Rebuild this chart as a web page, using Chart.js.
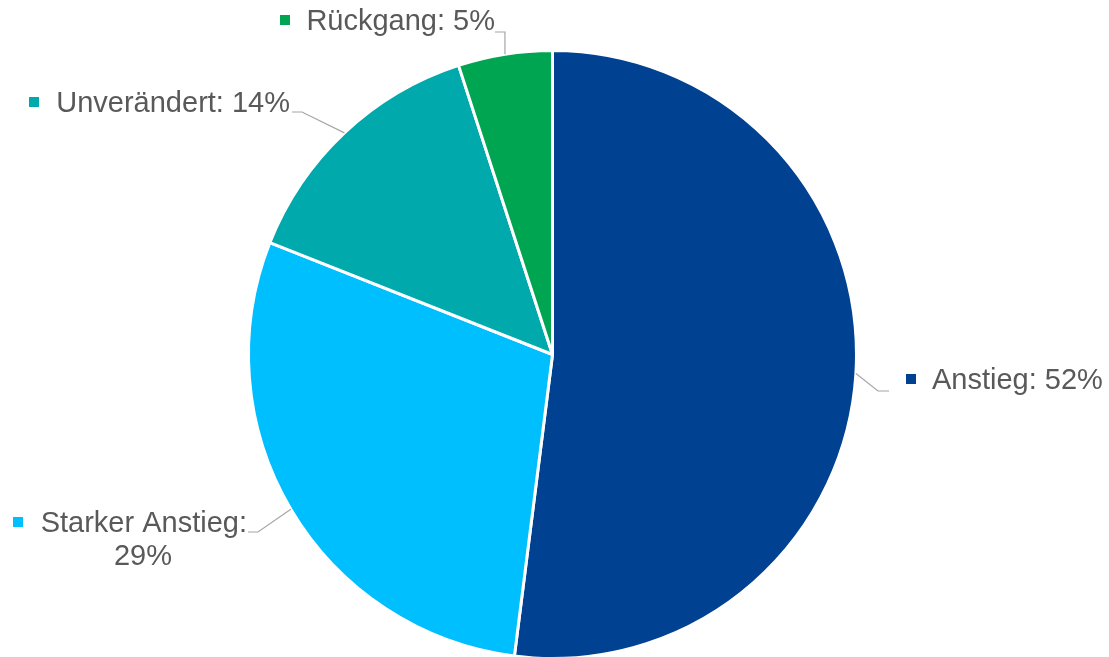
<!DOCTYPE html>
<html>
<head>
<meta charset="utf-8">
<script src="https://cdn.jsdelivr.net/npm/chart.js@4/dist/chart.umd.min.js"></script>
<style>
  html, body { margin: 0; padding: 0; background: #fff; }
  #wrap { width: 1109px; height: 657px; overflow: hidden; }
</style>
</head>
<body>
<div id="wrap"><canvas id="myChart" width="1109" height="660"></canvas></div>
<script>
const categories = ['Anstieg', 'Starker Anstieg', 'Unverändert', 'Rückgang'];
const shares = [52, 29, 14, 5];
const sliceColors = ['#004191', '#00BFFF', '#00A9AB', '#00A551'];

// where each label sits and where its leader line bends
const labelLayout = [
  { side: 'right', textX: 932, baseY: 389, boxX: 906, elbow: [878, 391], end: [889, 391] },
  { side: 'left', textX: 247, baseY: 532, boxX: 13, elbow: [258, 532], end: [248, 532], wrap: true, line2X: 143 },
  { side: 'left', textX: 290, baseY: 112, boxX: 29, elbow: [302, 112], end: [292, 112] },
  { side: 'left', textX: 495, baseY: 30, boxX: 280, elbow: null, end: [495, 32], vertical: true }
];

const labelFont = '29px "Liberation Sans", Arial, sans-serif';
const textColor = '#595959';
const leaderColor = '#A6A6A6';

const pieLabels = {
  id: 'pieLabels',
  afterDraw(chart) {
    const c = chart.ctx;
    const meta = chart.getDatasetMeta(0);
    c.save();
    c.font = labelFont;
    c.textBaseline = 'alphabetic';
    meta.data.forEach((arc, i) => {
      const lay = labelLayout[i];
      const mid = (arc.startAngle + arc.endAngle) / 2;
      const sx = arc.x + Math.cos(mid) * arc.outerRadius;
      const sy = arc.y + Math.sin(mid) * arc.outerRadius;

      // leader line
      c.strokeStyle = leaderColor;
      c.lineWidth = 1.2;
      c.beginPath();
      c.moveTo(sx, sy);
      if (lay.vertical) {
        c.lineTo(sx, lay.end[1]);
      } else {
        c.lineTo(lay.elbow[0], lay.elbow[1]);
      }
      c.lineTo(lay.end[0], lay.end[1]);
      c.stroke();

      const first = lay.wrap ? categories[i] + ':' : categories[i] + ': ' + shares[i] + '%';
      c.fillStyle = textColor;
      c.textAlign = lay.side === 'right' ? 'left' : 'right';
      c.fillText(first, lay.textX, lay.baseY);
      if (lay.wrap) {
        c.textAlign = 'center';
        c.fillText(shares[i] + '%', lay.line2X, lay.baseY + 33);
      }

      // legend key square
      c.fillStyle = sliceColors[i];
      c.fillRect(lay.boxX, lay.baseY - 15, 10, 10);
    });
    c.restore();
  }
};

new Chart(document.getElementById('myChart'), {
  type: 'pie',
  data: {
    labels: categories,
    datasets: [{
      data: shares,
      backgroundColor: sliceColors,
      borderColor: '#ffffff',
      borderWidth: 3,
      hoverOffset: 0
    }]
  },
  options: {
    responsive: false,
    animation: false,
    layout: { padding: { top: 49, bottom: 0, left: 0, right: 4 } },
    plugins: {
      legend: { display: false },
      tooltip: { enabled: false }
    }
  },
  plugins: [pieLabels]
});
</script>
</body>
</html>
